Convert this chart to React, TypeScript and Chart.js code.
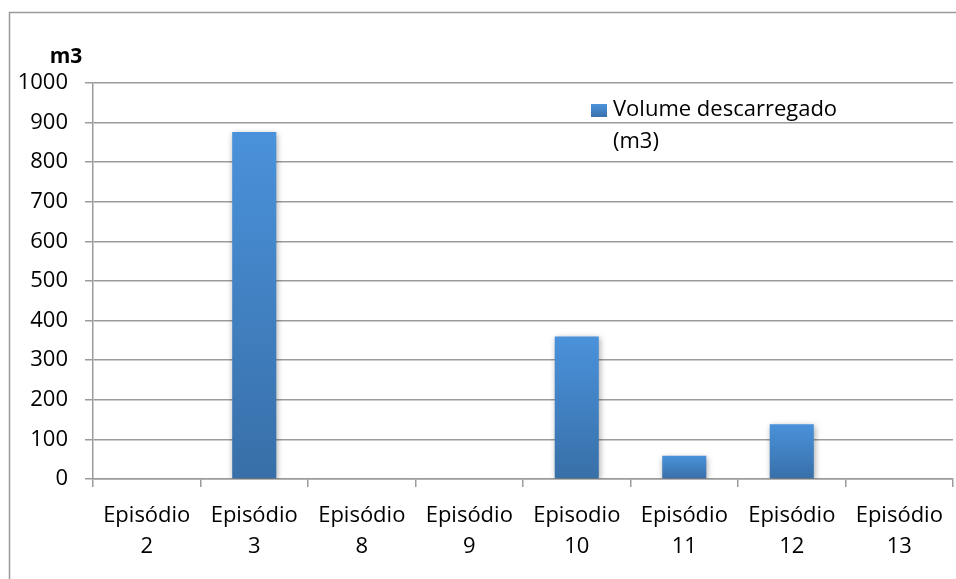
import React, { useEffect, useRef } from "react";
import { Chart, registerables } from "chart.js";

Chart.register(...registerables);

const categories: string[][] = [
  ["Episódio", "2"],
  ["Episódio", "3"],
  ["Episódio", "8"],
  ["Episódio", "9"],
  ["Episodio", "10"],
  ["Episódio", "11"],
  ["Episódio", "12"],
  ["Episódio", "13"],
];
const volumes: number[] = [0, 876, 0, 0, 360, 59, 138, 0];
const seriesLabel = ["Volume descarregado", "(m3)"];
const yTitle = "m3";
const yMin = 0;
const yMax = 1000;
const yStep = 100;

const FONT = "'Open Sans', 'Noto Sans', sans-serif";
const GRID = "#9b9b9b";

export default function App() {
  const ref = useRef<HTMLCanvasElement | null>(null);
  useEffect(() => {
    document.body.style.margin = "0";
    const canvas = ref.current!;
    const frame = {
      id: "frame",
      beforeDraw(chart: any) {
        const { ctx } = chart;
        ctx.save();
        ctx.fillStyle = "#fff";
        ctx.fillRect(0, 0, chart.width, chart.height);
        ctx.strokeStyle = "#9a9a9a";
        ctx.lineWidth = 1.5;
        ctx.strokeRect(9.5, 12.5, chart.width + 20, chart.height + 20);
        ctx.restore();
      },
      afterDraw(chart: any) {
        const { ctx, chartArea } = chart;
        ctx.save();
        ctx.fillStyle = "#000";
        ctx.font = `bold 21px ${FONT}`;
        ctx.textAlign = "center";
        ctx.textBaseline = "middle";
        ctx.fillText(yTitle, chartArea.left - 27, chartArea.top - 26);
        const lx = chartArea.left + 498;
        const ly = chartArea.top + 27;
        const g = ctx.createLinearGradient(0, ly - 6, 0, ly + 7);
        g.addColorStop(0, "#4d93db");
        g.addColorStop(1, "#3a72ad");
        ctx.fillStyle = g;
        ctx.fillRect(lx, ly - 6, 16, 13);
        ctx.fillStyle = "#000";
        ctx.font = `22px ${FONT}`;
        ctx.textAlign = "left";
        seriesLabel.forEach((t, i) => ctx.fillText(t, lx + 22, ly + i * 32));
        ctx.restore();
      },
    };
    const shadow = {
      id: "shadow",
      beforeDatasetDraw(chart: any) {
        const ctx = chart.ctx;
        ctx.save();
        ctx.shadowColor = "rgba(0,0,0,0.35)";
        ctx.shadowBlur = 6;
        ctx.shadowOffsetX = 1;
        ctx.shadowOffsetY = 2;
      },
      afterDatasetDraw(chart: any) {
        chart.ctx.restore();
      },
    };
    const chart = new Chart(canvas, {
      type: "bar",
      data: {
        labels: categories,
        datasets: [
          {
            label: seriesLabel.join(" "),
            data: volumes,
            barPercentage: 0.82,
            categoryPercentage: 0.5,
            backgroundColor: (c: any) => {
              const ch = c.chart;
              const y = ch.scales?.y;
              if (!ch.chartArea || !y || c.raw == null) return "#4a8fd6";
              const top = y.getPixelForValue(c.raw);
              const bot = y.getPixelForValue(0);
              if (bot - top < 1) return "#4a8fd6";
              const g = ch.ctx.createLinearGradient(0, top, 0, bot);
              g.addColorStop(0, "#4a92db");
              g.addColorStop(1, "#386fa8");
              return g;
            },
            borderWidth: 0,
          },
        ],
      },
      options: {
        responsive: false,
        animation: false,
        layout: { padding: { top: 83, right: 2, left: 0, bottom: 0 } },
        plugins: {
          legend: { display: false },
          tooltip: { enabled: false },
        },
        scales: {
          x: {
            grid: {
              drawOnChartArea: false,
              drawTicks: true,
              tickLength: 8,
              color: GRID,
              lineWidth: 1.5,
            },
            border: { color: GRID, width: 1.5 },
            ticks: {
              color: "#000",
              font: { family: FONT, size: 22, lineHeight: 1.42 },
              padding: 13,
              maxRotation: 0,
              autoSkip: false,
            },
            afterFit(scale: any) {
              scale.height = 100;
            },
          },
          y: {
            min: yMin,
            max: yMax,
            ticks: {
              stepSize: yStep,
              color: "#000",
              font: { family: FONT, size: 22 },
              padding: 17,
              callback: (v: any) => String(v),
            },
            grid: { color: GRID, lineWidth: 1.5, tickLength: 8 },
            border: { color: GRID, width: 1.5 },
            afterFit(scale: any) {
              scale.width = 93;
            },
          },
        },
      },
      plugins: [frame, shadow],
    });
    return () => chart.destroy();
  }, []);
  return <canvas ref={ref} width={956} height={579} style={{ display: "block" }} />;
}
